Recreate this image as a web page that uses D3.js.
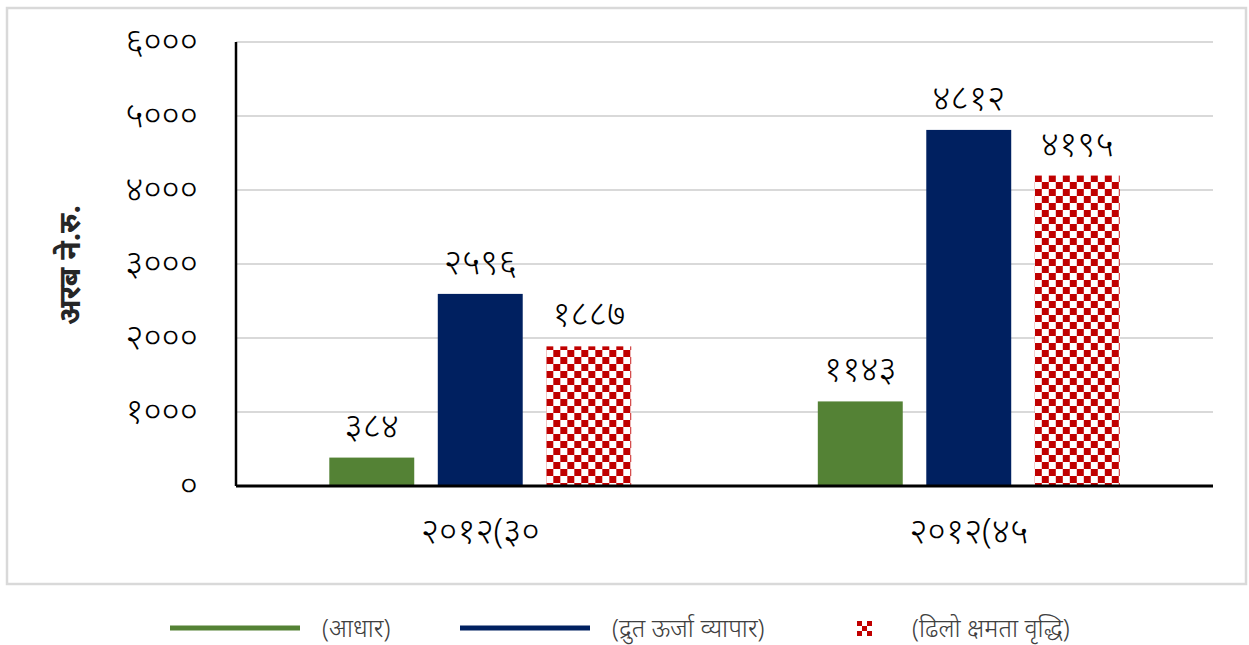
<!DOCTYPE html>
<html>
<head>
<meta charset="utf-8">
<script src="https://cdn.jsdelivr.net/npm/d3@7"></script>
<style>
  html, body { margin: 0; padding: 0; background: #fff; }
  svg { display: block; font-family: "Noto Sans", "DejaVu Sans", sans-serif; }
</style>
</head>
<body>
<svg id="chart" width="1249" height="645"></svg>
<script>
// Scenario periods on the x axis
const categories = ["२०१२(३०", "२०१२(४५"];
// Series names (legend order)
const seriesNames = ["(आधार)", "(द्रुत ऊर्जा व्यापार)", "(ढिलो क्षमता वृद्धि)"];
// Values per series, one per category (अरब ने.रु.)
const baseValues = [384, 1143];
const fastTradeValues = [2596, 4812];
const slowCapacityValues = [1887, 4195];
// Y axis ticks
const yTicks = [0, 1000, 2000, 3000, 4000, 5000, 6000];
const yLabel = "अरब ने.रु.";

const seriesValues = [baseValues, fastTradeValues, slowCapacityValues];
const seriesColors = ["#548235", "#002060", "#C00000"];

// Western -> Devanagari numerals
const devDigits = "०१२३४५६७८९";
const toDev = n => String(n).replace(/[0-9]/g, d => devDigits[+d]);

const svg = d3.select("#chart");

// checkered fill for the third series
const defs = svg.append("defs");
const pat = defs.append("pattern")
  .attr("id", "checker").attr("patternUnits", "userSpaceOnUse")
  .attr("width", 14).attr("height", 14);
pat.append("rect").attr("width", 14).attr("height", 14).attr("fill", "#fff");
pat.append("rect").attr("width", 7).attr("height", 7).attr("fill", seriesColors[2]);
pat.append("rect").attr("x", 7).attr("y", 7).attr("width", 7).attr("height", 7).attr("fill", seriesColors[2]);

// outer frame
svg.append("rect")
  .attr("x", 7).attr("y", 8).attr("width", 1239).attr("height", 576)
  .attr("fill", "none").attr("stroke", "#d9d9d9").attr("stroke-width", 2.5);

const plot = { left: 236, right: 1213, top: 42, bottom: 486 };

const y = d3.scaleLinear().domain([0, 6000]).range([plot.bottom, plot.top]);
const x0 = d3.scaleBand().domain(categories)
  .range([plot.left, plot.right]).paddingInner(0.382).paddingOuter(0.191);
const x1 = d3.scaleBand().domain(d3.range(seriesValues.length))
  .range([0, x0.bandwidth()]).paddingInner(0.217).paddingOuter(0);

// gridlines
svg.append("g")
  .selectAll("line").data(yTicks.filter(t => t > 0)).join("line")
  .attr("x1", plot.left).attr("x2", plot.right)
  .attr("y1", d => y(d)).attr("y2", d => y(d))
  .attr("stroke", "#d9d9d9").attr("stroke-width", 2);

// y axis tick labels
const yAxis = d3.axisLeft(y).tickValues(yTicks).tickFormat(toDev).tickSize(0).tickPadding(0);
const gy = svg.append("g").attr("transform", `translate(${plot.left - 38},0)`).call(yAxis)
  .attr("font-family", null).attr("font-size", null);
gy.select(".domain").remove();
gy.selectAll("text")
  .attr("font-size", 35).attr("font-weight", 300).attr("fill", "#000").attr("dy", "0.3em");

// y axis line
svg.append("line")
  .attr("x1", plot.left).attr("x2", plot.left)
  .attr("y1", plot.top).attr("y2", plot.bottom)
  .attr("stroke", "#000").attr("stroke-width", 2.5);

// bars
const groups = svg.append("g").selectAll("g").data(categories).join("g")
  .attr("transform", d => `translate(${x0(d)},0)`);

groups.each(function(cat, ci) {
  const g = d3.select(this);
  seriesValues.forEach((vals, si) => {
    const v = vals[ci];
    g.append("rect")
      .attr("x", x1(si)).attr("width", x1.bandwidth())
      .attr("y", y(v)).attr("height", y(0) - y(v))
      .attr("fill", si === 2 ? "url(#checker)" : seriesColors[si]);
    g.append("text")
      .attr("x", x1(si) + x1.bandwidth() / 2)
      .attr("y", y(v) - 20)
      .attr("text-anchor", "middle")
      .attr("font-size", 35).attr("font-weight", 300).attr("fill", "#000")
      .text(toDev(v));
  });
});

// x axis baseline
svg.append("line")
  .attr("x1", plot.left).attr("x2", plot.right)
  .attr("y1", plot.bottom).attr("y2", plot.bottom)
  .attr("stroke", "#000").attr("stroke-width", 3);

// category labels
const xAxis = d3.axisBottom(x0).tickSize(0).tickPadding(0);
const gx = svg.append("g").attr("transform", `translate(0,${plot.bottom + 46})`).call(xAxis)
  .attr("font-family", null).attr("font-size", null);
gx.select(".domain").remove();
gx.selectAll("text").attr("font-size", 35).attr("font-weight", 300).attr("fill", "#000").attr("dy", "0.3em");

// y axis title
svg.append("text")
  .attr("transform", `translate(80,265) rotate(-90)`)
  .attr("text-anchor", "middle")
  .attr("font-size", 30).attr("font-weight", "bold").attr("fill", "#262626")
  .text(yLabel);

// legend
const legendX = [170, 460, 857];
const legend = svg.append("g");
seriesNames.forEach((name, i) => {
  const lx = legendX[i], ly = 628;
  if (i < 2) {
    legend.append("line")
      .attr("x1", lx).attr("x2", lx + 130).attr("y1", ly).attr("y2", ly)
      .attr("stroke", seriesColors[i]).attr("stroke-width", 5);
    legend.append("text")
      .attr("x", lx + 152).attr("y", ly).attr("dy", "0.35em")
      .attr("font-size", 25).attr("font-weight", 300).attr("fill", "#404040").text(name);
  } else {
    const cs = 5;
    [[0,0],[2,0],[1,1],[0,2],[2,2]].forEach(([cx, cy]) => {
      legend.append("rect")
        .attr("x", lx + cx * cs).attr("y", ly - 7 + cy * cs)
        .attr("width", cs).attr("height", cs).attr("fill", seriesColors[2]);
    });
    legend.append("text")
      .attr("x", lx + 55).attr("y", ly).attr("dy", "0.35em")
      .attr("font-size", 25).attr("font-weight", 300).attr("fill", "#404040").text(name);
  }
});
</script>
</body>
</html>
